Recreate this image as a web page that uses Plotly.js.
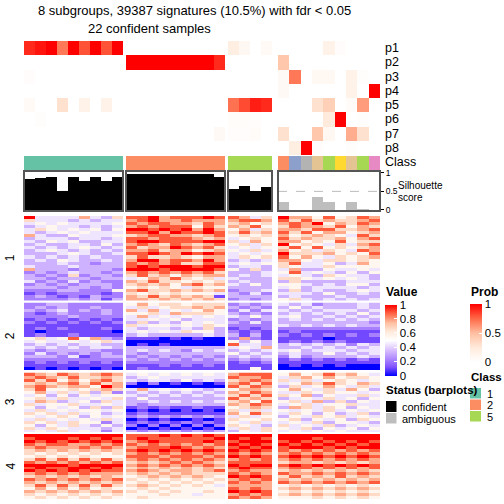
<!DOCTYPE html>
<html><head><meta charset="utf-8">
<script src="https://cdn.plot.ly/plotly-3.0.1.min.js"></script>
<style>html,body{margin:0;padding:0;background:#fff}#chart{width:504px;height:504px}</style>
</head><body><div id="chart"></div>
<script>
// ---------------- DATA ----------------
const groupSizes = [9, 9, 4, 9];           // group 1, group 2, group 5, ambiguous
const classIds = [1,1,1,1,1,1,1,1,1, 2,2,2,2,2,2,2,2,2, 5,5,5,5, 2,3,8,7,5,6,7,5,4];
const classColors = ['#66C2A5','#FC8D62','#8DA0CB','#E78AC3','#A6D854','#FFD92F','#E5C494','#B3B3B3'];
const silhouette = [0.84,0.86,0.89,0.51,0.89,0.78,0.89,0.78,0.89,
                    0.97,0.96,0.96,0.96,0.96,0.96,0.96,0.96,0.89,
                    0.57,0.65,0.51,0.62,
                    0.22,0,0,0.35,0.22,0,0.22,0.03,0];
const probLabels = ['p1','p2','p3','p4','p5','p6','p7','p8'];
const p1 = [0.9,0.95,1,0.7,1,0.8,1,0.8,1, 0,0,0,0,0,0,0,0,0, 0.2,0.1,0,0.06, 0,0,0,0,0.15,0.03,0,0,0];
const p2 = [0,0,0,0,0,0,0,0,0, 1,1,1,1,1,1,1,1,0.9, 0,0,0,0, 0.45,0,0,0,0,0,0,0,0];
const p3 = [0.03,0,0,0,0,0,0,0,0, 0,0,0,0,0,0,0,0,0, 0,0,0,0, 0.07,0.7,0,0.08,0.08,0,0.15,0.02,0];
const p4 = [0,0,0,0,0,0,0,0,0, 0,0,0,0,0,0,0,0,0, 0,0,0,0, 0.07,0,0,0,0,0,0.15,0,1];
const p5 = [0.06,0,0,0.3,0,0.15,0,0.15,0, 0,0,0,0,0,0,0,0,0, 0.72,0.82,0.93,0.9, 0,0,0,0.3,0.4,0,0.05,0.6,0];
const p6 = [0,0.02,0,0,0,0,0,0,0, 0,0,0,0,0,0,0,0,0, 0.04,0.04,0.03,0, 0,0,0,0,0.25,1,0,0.02,0];
const p7 = [0,0,0,0,0,0,0,0,0, 0,0,0,0,0,0,0,0,0.07, 0.03,0.03,0.05,0, 0.3,0,0,0.45,0.1,0,0.55,0.3,0];
const p8 = [0,0,0,0,0,0,0,0,0, 0,0,0,0,0,0,0,0,0, 0,0,0,0, 0,0.2,1,0.03,0,0,0.02,0,0];
const rowGroupLabels = ['1','2','3','4'];
// signature values, digit d -> d/9, columns: group1 | group2 | group5 | ambiguous
const rows1 = [
"944447436 889788898 8746 977585687","644434344 789778777 7887 868676678","454544445 878877687 6756 787957687",
"345443434 787888586 7685 687768576","465454535 998989797 5746 776886678","434545444 889798898 6867 868577567",
"743354445 678877678 5656 756765486","344434434 887888767 4565 867667578","435453344 899888899 6475 775658566",
"343344353 787687678 5646 956546478","434345434 867798786 4545 685856567","345434343 778677567 5464 756465487",
"333454334 889879898 4545 966675658","434343433 686676577 4656 857546567","343543343 799788797 3434 775466565",
"333433233 878786688 4545 684453475","433343333 898999899 3443 654465555","733323332 999899998 5363 473354454",
"232343323 787878786 3334 584543535","323262332 686757677 3434 454365443","332333233 457686564 4333 665454543",
"423242322 768665656 3433 363333444","232323332 676757867 4353 554343553","333233232 565654655 3333 453444434",
"222332225 786676767 2334 363433454","121222212 656565554 3242 444353343","232121322 768676761 3333 343334333",
"222232313 776767676 2323 564343434"];
const rows2 = [
"223322222 575665666 2323 434233343","232322322 464566767 3232 353433343","323423232 747454575 2424 434344434",
"212322232 556476665 3232 343434353","222232222 474545454 4353 453343434","121212121 445453444 2323 343434343",
"212121212 363435454 3242 333333332","111111111 645545465 2222 434343433","121211121 434434363 1212 222222222",
"101111110 454546553 2121 121111111","121121111 343333343 3131 212121212","564585732 111010100 2721 111101111",
"454454564 000000000 5353 121212111","343434433 010100000 8443 343434243","434343443 333333333 4547 334343434",
"323333322 343432434 3434 453444344","242323232 323333333 5343 343353434","333241233 232323232 3434 242333343",
"222222222 323232323 2323 121212121","121212121 222222222 1212 111111111","111111111 111212121 1111 010101000",
"010101010 121111111 1151 000000000"];
const rows3 = [
"876876787 454545454 7888 575686754","787686676 345444444 8778 467575665","868575786 434435343 6787 646456545",
"676786867 202010101 7868 457686576","787677597 000000000 8687 364575464","685565676 474545434 5776 575464753",
"574646362 343434343 7687 446565545","453535455 434343434 6868 657354464","564644546 353333333 8676 345464535",
"476345364 334343434 6758 564736354","645564454 323333333 7687 456455644","535453636 121211211 5676 376465354",
"464545545 010101010 6464 545464545","656464534 121111111 7586 465353463","545653545 232323232 4645 354656454",
"464545464 010100101 6556 563545365","656465524 121212121 5464 454635543","535464353 202020202 6543 645463454",
"646544434 010101010 4646 546354535","454645424 323232323 3546 454545444"];
const rows4 = [
"999999999 888989898 9999 999999999","899989898 898888889 9898 999899999","989898989 789888898 8999 898989898",
"878877878 878787878 9898 989898989","787778787 788898787 8989 899989899","676767676 898989898 9898 878787878",
"656565656 787878787 8787 787878787","565656555 888788878 9898 898989898","686868686 787878787 7878 787878787",
"878787878 676787876 8888 677676767","999989999 787878787 9899 898989898","898899898 676767676 8988 788787878",
"989898988 787677678 7877 676767676","787878777 676767666 8787 877878787","676767676 567676765 9898 686768676",
"878787878 656565656 7878 767676767","767676767 565656565 8787 878787878","686868686 676565654 7777 565656565",
"575757565 565655555 8787 676767676","767676767 656565565 9898 565656565","656565656 555655455 7878 676767676",
"565656565 565555555 8787 555656565"];
const statusLabels = ['confident','ambiguous'];
const legendClasses = [1, 2, 5];

// ---------------- LAYOUT HELPERS ----------------
const W = 504, H = 504;
const FONT = 'Liberation Sans, Arial, sans-serif';
const colPx = [[24,123],[126,225],[228,272],[278,380]];
const probPx = [41,155], classPx = [156,170], silPx = [171,211];
const heatPx = [[216,300.5],[302.5,370],[372.5,432],[434,499]];
const xd = p => [p[0]/W, p[1]/W];
const yd = p => [1 - p[1]/H, 1 - p[0]/H];
const py = v => 1 - v/H, px = v => v/W;

const valueScale = [[0,'#0000FF'],[0.125,'#8052FF'],[0.25,'#B28CFF'],[0.375,'#DCC4FF'],[0.5,'#FFFFFF'],
                    [0.625,'#FFEADB'],[0.75,'#FFBEA0'],[0.875,'#FF6846'],[1,'#FF0000']];
const probScale = [[0,'#FFFFFF'],[0.25,'#FFEADB'],[0.5,'#FFBEA0'],[0.75,'#FF6846'],[1,'#FF0000']];
const classScale = [];
classColors.forEach((c,i)=>{ classScale.push([i/8,c]); classScale.push([(i+1)/8,c]); });

const probRows = [p1,p2,p3,p4,p5,p6,p7,p8];
const heatRows = [rows1,rows2,rows3,rows4];
const starts = [0]; groupSizes.forEach((n,i)=>starts.push(starts[i]+n));

const traces = [];
const layout = {width:W, height:H, margin:{l:0,r:0,t:0,b:0}, paper_bgcolor:'#fff', plot_bgcolor:'rgba(0,0,0,0)',
  showlegend:false, font:{family:FONT, color:'#000'}, bargap:0, annotations:[], shapes:[]};

const hidden = {visible:false, showgrid:false, zeroline:false, fixedrange:true};
groupSizes.forEach((n,c)=>{
  const id = c===0 ? '' : String(c+1);
  layout['xaxis'+id] = Object.assign({}, hidden, {domain:xd(colPx[c]), range:[-0.5, n-0.5], anchor:'y4'});
});
layout.yaxis = Object.assign({}, hidden, {domain:yd(probPx), range:[7.5,-0.5]});
layout.yaxis2 = Object.assign({}, hidden, {domain:yd(classPx), range:[0.5,-0.5]});
layout.yaxis3 = {domain:yd(silPx), range:[-0.03,1.05], anchor:'x4', side:'right', showgrid:false, zeroline:false,
  showline:false, tickvals:[0,0.5,1], ticktext:['0','0.5','1'], ticks:'outside', ticklen:3, tickwidth:1,
  tickcolor:'#000', tickfont:{size:8.5, family:FONT}, fixedrange:true};
heatRows.forEach((rows,r)=>{
  layout['yaxis'+(r+4)] = Object.assign({}, hidden, {domain:yd(heatPx[r]), range:[rows.length-0.5,-0.5]});
});

groupSizes.forEach((n,c)=>{
  const xa = c===0 ? 'x' : 'x'+(c+1);
  const xi = Array.from({length:n},(_,i)=>i);
  const s = starts[c];
  traces.push({type:'heatmap', xaxis:xa, yaxis:'y', x:xi, y:probLabels.map((_,i)=>i),
    z:probRows.map(r=>r.slice(s,s+n)), zmin:0, zmax:1, colorscale:probScale, hoverinfo:'skip',
    showscale:c===0, colorbar:{x:470/W, xanchor:'left', xpad:0, y:py(333), yanchor:'middle', ypad:0,
      len:58, lenmode:'pixels', thickness:12, thicknessmode:'pixels', outlinewidth:0,
      tickvals:[0,0.5,1], ticktext:['0','0.5','1'], ticks:'inside', ticklen:3, tickcolor:'#fff',
      tickfont:{size:11.5, family:FONT}}});
  traces.push({type:'heatmap', xaxis:xa, yaxis:'y2', x:xi, y:[0], z:[classIds.slice(s,s+n)],
    zmin:0.5, zmax:8.5, colorscale:classScale, showscale:false, hoverinfo:'skip'});
  traces.push({type:'bar', xaxis:xa, yaxis:'y3', x:xi, y:silhouette.slice(s,s+n), width:1,
    marker:{color: c===3 ? '#BEBEBE' : '#000000', line:{width:0}}, hoverinfo:'skip'});
  heatRows.forEach((rows,r)=>{
    const z = rows.map(str => str.split(' ')[c].split('').map(d => (+d)/9));
    traces.push({type:'heatmap', xaxis:xa, yaxis:'y'+(r+4), x:xi, y:z.map((_,i)=>i), z:z,
      zmin:0, zmax:1, colorscale:valueScale, hoverinfo:'skip',
      showscale: c===0 && r===0,
      colorbar:{x:385/W, xanchor:'left', xpad:0, y:py(340), yanchor:'middle', ypad:0,
        len:71, lenmode:'pixels', thickness:12, thicknessmode:'pixels', outlinewidth:0,
        tickvals:[0,0.2,0.4,0.6,0.8,1], ticktext:['0','0.2','0.4','0.6','0.8','1'],
        ticks:'inside', ticklen:3, tickcolor:'#fff', tickfont:{size:11.5, family:FONT}}});
  });
  layout.shapes.push({type:'line', xref:xa+' domain', yref:'y3', x0:0, x1:1, y0:0.5, y1:0.5,
    line:{color:'#BBBBBB', width:1, dash:'dash'}, layer:'below'});
  layout.shapes.push({type:'rect', xref:xa+' domain', yref:'y3 domain', x0:0, x1:1, y0:0, y1:1,
    line:{color:'#555555', width:2}, layer:'above'});
});

const ann = (text, x, y, opts) => layout.annotations.push(Object.assign({text:text, x:px(x), y:py(y),
  xref:'paper', yref:'paper', showarrow:false, xanchor:'left', yanchor:'middle',
  font:{size:11, family:FONT, color:'#000'}}, opts||{}));

ann('8 subgroups, 39387 signatures (10.5%) with fdr &lt; 0.05', 36, 10, {font:{size:13, family:FONT}});
ann('22 confident samples', 86, 28.5, {font:{size:13, family:FONT}});
probLabels.forEach((t,i)=> ann(t, 383, probPx[0] + (i+0.5)*(probPx[1]-probPx[0])/8, {font:{size:12.5, family:FONT}}));
ann('Class', 383, 162.5, {font:{size:12.5, family:FONT}});
ann('Silhouette', 396, 185.5, {font:{size:10, family:FONT}});
ann('score', 396, 197.5, {font:{size:10, family:FONT}});
rowGroupLabels.forEach((t,r)=> ann(t, 10, (heatPx[r][0]+heatPx[r][1])/2, {xanchor:'center', textangle:-90, font:{size:12, family:FONT}}));
ann('<b>Value</b>', 384, 292, {font:{size:12, family:FONT}});
ann('<b>Prob</b>', 469, 292, {font:{size:12, family:FONT}});
ann('<b>Class</b>', 469, 377, {font:{size:11.5, family:FONT}});
ann('<b>Status (barplots)</b>', 384, 390, {font:{size:11.5, family:FONT}});

const rect = (x0,y0,x1,y1,color) => layout.shapes.push({type:'rect', xref:'paper', yref:'paper',
  x0:px(x0), x1:px(x1), y0:py(y1), y1:py(y0), fillcolor:color, line:{width:0}});
rect(386,401,396.5,412,'#000000'); rect(386,413,396.5,423.5,'#BEBEBE');
statusLabels.forEach((t,i)=> ann(t, 400, 406.5 + i*12));
legendClasses.forEach((k,i)=>{
  const y0 = 388 + i*11.5;
  rect(470,y0,481,y0+10.5,classColors[k-1]);
  ann(String(k), 485, y0+5.5);
});

Plotly.newPlot('chart', traces, layout, {staticPlot:true, displayModeBar:false});
</script></body></html>
